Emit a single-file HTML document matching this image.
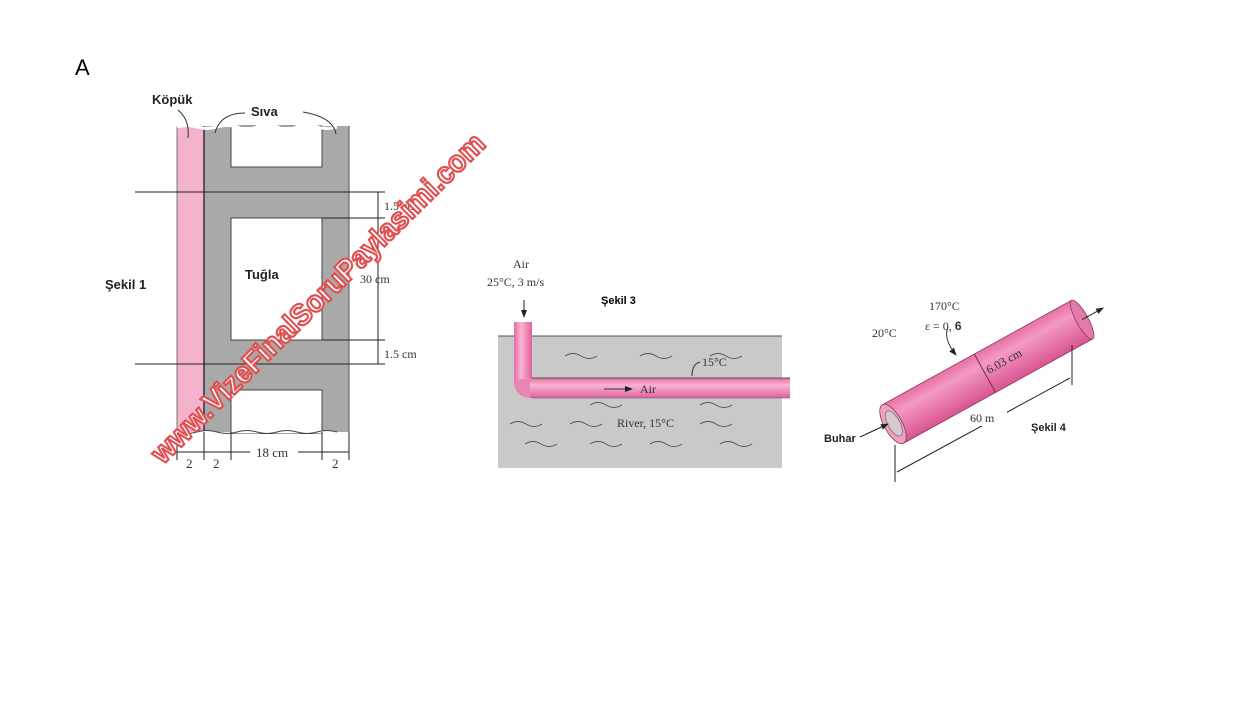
<!DOCTYPE html>
<html><head><meta charset="utf-8"><style>
html,body{margin:0;padding:0;background:#fff;}
svg{display:block}
</style></head><body>
<svg width="1240" height="712" xmlns="http://www.w3.org/2000/svg" font-family="Liberation Serif, serif">
<defs>
<marker id="ar" markerWidth="8" markerHeight="8" refX="7" refY="4" orient="auto"><path d="M0,1 L8,4 L0,7 z" fill="#222"/></marker>
<linearGradient id="pg" x1="0" y1="0" x2="0" y2="1">
<stop offset="0" stop-color="#e86aa0"/><stop offset="0.35" stop-color="#f7b6d2"/><stop offset="1" stop-color="#e0609a"/></linearGradient>
<linearGradient id="pc" x1="0" y1="0" x2="0" y2="1">
<stop offset="0" stop-color="#e870a6"/><stop offset="0.3" stop-color="#f39ac2"/><stop offset="1" stop-color="#d95592"/></linearGradient>
<linearGradient id="pv" x1="0" y1="0" x2="1" y2="0">
<stop offset="0" stop-color="#e86aa0"/><stop offset="0.4" stop-color="#f7b6d2"/><stop offset="1" stop-color="#e0609a"/></linearGradient>
</defs>
<text x="75" y="75" font-family="Liberation Sans, sans-serif" font-size="22">A</text>

<!-- Figure 1 -->
<rect x="177" y="126" width="27" height="306" fill="#f4b2cc"/>
<rect x="204" y="126" width="145" height="306" fill="#a9a9a9"/>
<line x1="204" y1="126" x2="204" y2="432" stroke="#333" stroke-width="1.5"/>
<line x1="177" y1="126" x2="177" y2="432" stroke="#777"/>
<line x1="349" y1="126" x2="349" y2="432" stroke="#555"/>
<rect x="231" y="126" width="91" height="41" fill="#fff" stroke="#444"/>
<rect x="231" y="218" width="91" height="122" fill="#fff" stroke="#444"/>
<rect x="231" y="390" width="91" height="44" fill="#fff" stroke="#444"/>
<path d="M177,127 q10,-3 20,0 t20,0 t20,0 t20,0 t20,0 t20,0 t20,0 t20,0" fill="none" stroke="#fff" stroke-width="3"/>
<path d="M177,432 q10,3 20,0 t20,0 t20,0 t20,0 t20,0 t20,0 t20,0 t20,0" fill="#fff" stroke="#444"/>
<rect x="170" y="434" width="190" height="8" fill="#fff"/>
<line x1="135" y1="192" x2="385" y2="192" stroke="#222"/>
<line x1="135" y1="364" x2="385" y2="364" stroke="#222"/>
<line x1="322" y1="218" x2="385" y2="218" stroke="#222"/>
<line x1="322" y1="340" x2="385" y2="340" stroke="#222"/>
<line x1="378" y1="192" x2="378" y2="364" stroke="#222"/>
<g font-size="12" fill="#333">
<text x="384" y="210">1.5 cm</text>
<text x="360" y="283">30 cm</text>
<text x="384" y="358">1.5 cm</text>
</g>
<g stroke="#222">
<line x1="177" y1="432" x2="177" y2="460"/><line x1="204" y1="432" x2="204" y2="460"/>
<line x1="231" y1="432" x2="231" y2="460"/><line x1="322" y1="432" x2="322" y2="460"/><line x1="349" y1="432" x2="349" y2="460"/>
<line x1="177" y1="452" x2="349" y2="452"/>
</g>
<rect x="250" y="444" width="48" height="14" fill="#fff"/>
<g font-size="13" fill="#333">
<text x="186" y="468">2</text><text x="213" y="468">2</text><text x="256" y="457">18 cm</text><text x="332" y="468">2</text>
</g>
<g font-family="Liberation Sans, sans-serif" font-weight="bold" font-size="13" fill="#222">
<text x="152" y="104">Köpük</text>
<text x="251" y="116">Sıva</text>
<text x="245" y="279">Tuğla</text>
<text x="105" y="289">Şekil 1</text>
</g>
<path d="M178,110 q12,10 10,28" fill="none" stroke="#333"/>
<path d="M215,133 q5,-20 30,-20" fill="none" stroke="#333"/>
<path d="M303,112 q30,5 33,22" fill="none" stroke="#333"/>

<!-- watermark -->
<text x="0" y="0" transform="translate(163,465) rotate(-44.6)" font-family="Liberation Sans, sans-serif" font-weight="bold" font-size="30" fill="#fff" stroke="#e05050" stroke-width="2.2" textLength="455" lengthAdjust="spacingAndGlyphs">www.VizeFinalSoruPaylasimi.com</text>

<!-- Figure 3 -->
<rect x="498" y="336" width="284" height="132" fill="#c9c9c9"/>
<line x1="498" y1="336" x2="782" y2="336" stroke="#555"/>
<g fill="none" stroke="#555" stroke-width="1">
<path d="M565,356 q8,-5 16,0 t16,0"/><path d="M640,356 q8,-5 16,0 t16,0"/><path d="M710,356 q8,-5 16,0 t16,0"/>
<path d="M510,424 q8,-5 16,0 t16,0"/><path d="M570,424 q8,-5 16,0 t16,0"/><path d="M700,424 q8,-5 16,0 t16,0"/>
<path d="M525,444 q8,-5 16,0 t16,0"/><path d="M590,444 q8,-5 16,0 t16,0"/><path d="M650,444 q8,-5 16,0 t16,0"/><path d="M720,444 q8,-5 16,0 t16,0"/>
<path d="M590,405 q8,-5 16,0 t16,0"/><path d="M700,405 q8,-5 16,0 t16,0"/>
</g>
<rect x="514" y="322" width="18" height="62" fill="url(#pv)"/>
<path d="M514,380 Q514,398 532,398 L532,378 Z" fill="#e985b0"/>
<rect x="530" y="378" width="260" height="20" fill="url(#pg)"/>
<line x1="532" y1="378" x2="790" y2="378" stroke="#555"/>
<line x1="532" y1="398" x2="790" y2="398" stroke="#555" stroke-opacity="0.5"/>
<line x1="524" y1="300" x2="524" y2="317" stroke="#222" marker-end="url(#ar)"/>
<line x1="604" y1="389" x2="632" y2="389" stroke="#333" marker-end="url(#ar)"/>
<g font-size="12" fill="#333">
<text x="513" y="268">Air</text>
<text x="487" y="286">25°C, 3 m/s</text>
<text x="640" y="393">Air</text>
<text x="702" y="366">15°C</text>
<text x="617" y="427">River, 15°C</text>
</g>
<path d="M700,362 q-8,2 -8,14" fill="none" stroke="#333"/>
<text x="601" y="304" font-family="Liberation Sans, sans-serif" font-weight="bold" font-size="11">Şekil 3</text>

<!-- Figure 4 -->
<g transform="translate(893,424) rotate(-28.9)">
<rect x="0" y="-22" width="216" height="44" fill="url(#pc)"/>
<line x1="0" y1="-22" x2="216" y2="-22" stroke="#8a3a5a" stroke-width="0.8"/>
<line x1="0" y1="22" x2="216" y2="22" stroke="#8a3a5a" stroke-width="0.8"/>
<ellipse cx="216" cy="0" rx="6" ry="22" fill="#e47aa8" stroke="#8a3a5a" stroke-width="0.8"/>
<ellipse cx="0" cy="0" rx="9" ry="22" fill="#f0a0c4" stroke="#8a3a5a" stroke-width="0.8"/>
<ellipse cx="1" cy="0" rx="6" ry="14" fill="#d6c8cc" stroke="#777" stroke-width="0.8"/>
<line x1="105" y1="-22" x2="105" y2="22" stroke="#7a2a4a"/>
<line x1="216" y1="0" x2="240" y2="0" stroke="#222" marker-end="url(#ar)"/>
</g>
<line x1="860" y1="437" x2="888" y2="424" stroke="#222" marker-end="url(#ar)"/>
<line x1="895" y1="445" x2="895" y2="482" stroke="#222"/>
<line x1="1072" y1="345" x2="1072" y2="385" stroke="#222"/>
<line x1="897" y1="472" x2="1070" y2="378" stroke="#222"/>
<rect x="965" y="410" width="42" height="16" fill="#fff"/>
<path d="M948,327 q-5,12 8,28" fill="none" stroke="#333" marker-end="url(#ar)"/>
<g font-size="12" fill="#333">
<text x="929" y="310">170°C</text>
<text x="925" y="330">ε = 0, <tspan font-family="Liberation Sans, sans-serif" font-weight="bold">6</tspan></text>
<text x="872" y="337">20°C</text>
<text x="970" y="422">60 m</text>
<text x="0" y="0" transform="translate(989,374) rotate(-28.9)">6.03 cm</text>
</g>
<g font-family="Liberation Sans, sans-serif" font-weight="bold" font-size="11" fill="#222">
<text x="824" y="442">Buhar</text>
<text x="1031" y="431">Şekil 4</text>
</g>
</svg>
</body></html>
